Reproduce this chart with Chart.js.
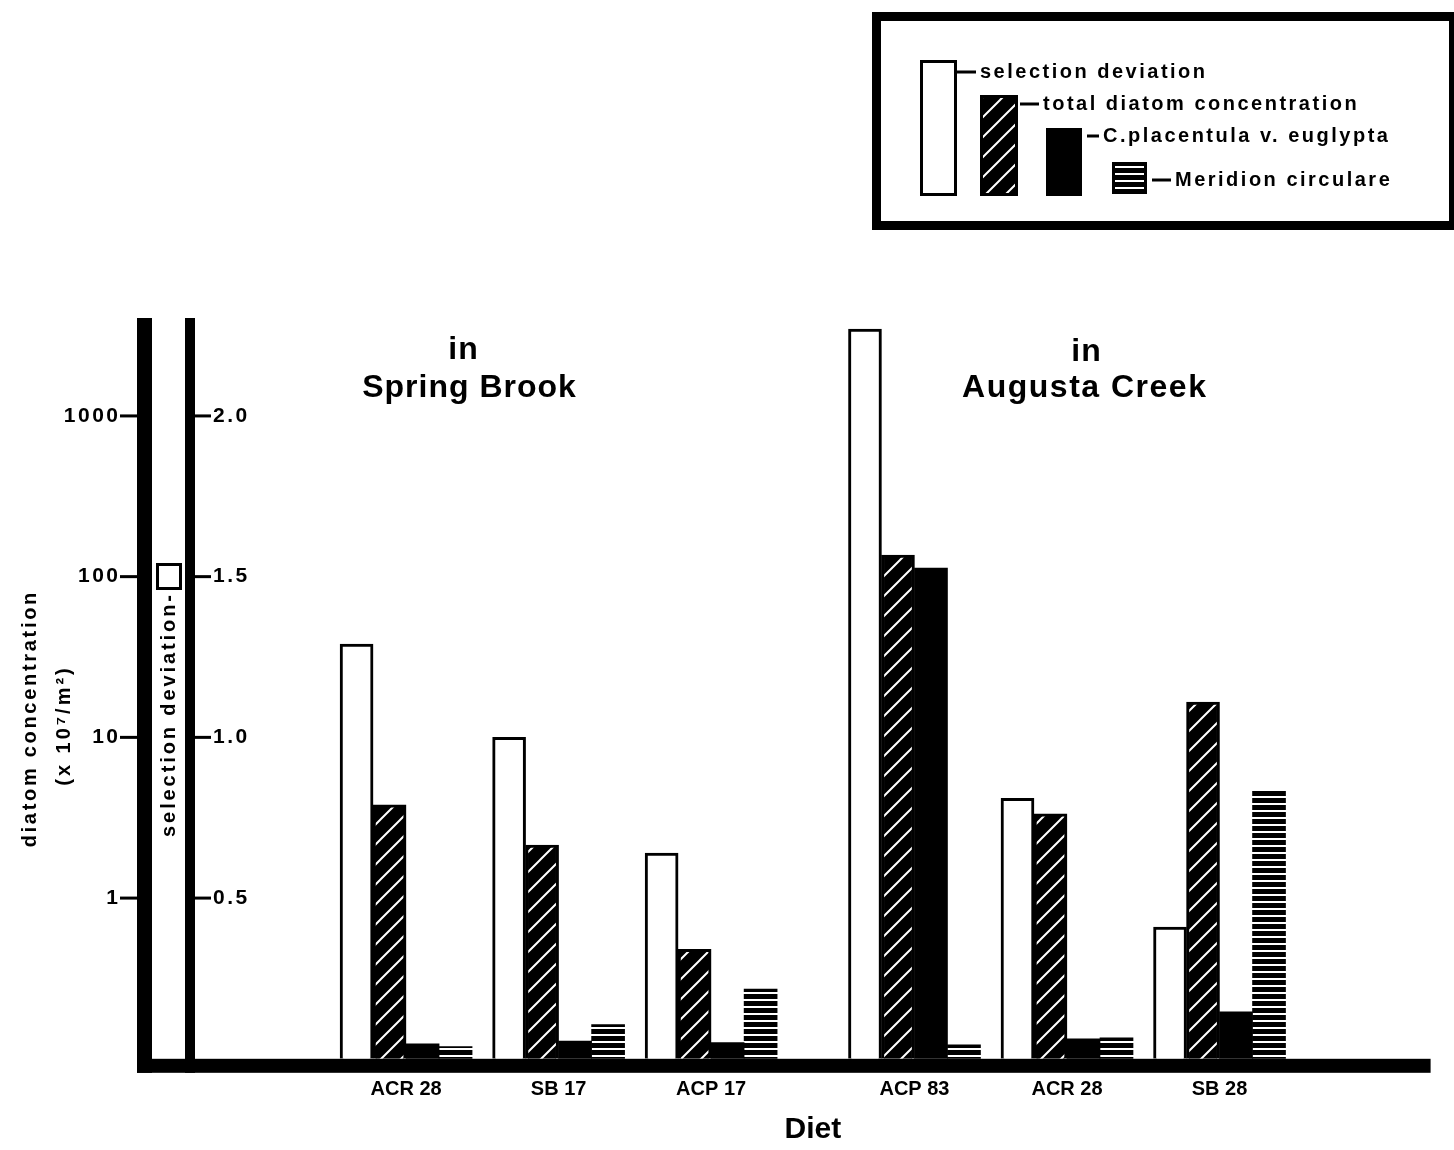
<!DOCTYPE html>
<html>
<head>
<meta charset="utf-8">
<title>Diatom selection by diet</title>
<script src="https://cdn.jsdelivr.net/npm/chart.js@4.4.1/dist/chart.umd.min.js"></script>
<style>
  html, body { margin: 0; padding: 0; background: #fff; }
  canvas { display: block; }
</style>
</head>
<body>
<canvas id="chart" width="1454" height="1150"></canvas>
<script>
// Diets, grouped by stream (first three: Spring Brook, last three: Augusta Creek)
const diets = ['ACR 28', 'SB 17', 'ACP 17', 'ACP 83', 'ACR 28', 'SB 28'];

// Selection deviation (linear, inner axis)
const selectionDeviation = [1.29, 1.0, 0.64, 2.27, 0.81, 0.41];
// Concentrations, x10^7 per m^2 (log axis)
const totalDiatoms = [3.8, 2.14, 0.48, 136, 3.34, 16.6];
const cPlacentula = [0.124, 0.129, 0.126, 113, 0.133, 0.196];
const meridion = [0.119, 0.163, 0.272, 0.122, 0.135, 4.64];

// Axis tick labels
const concTicks = [1, 10, 100, 1000];
const selTicks = ['0.5', '1.0', '1.5', '2.0'];

const seriesNames = ['selection deviation', 'total diatom concentration',
                     'C.placentula v. euglypta', 'Meridion circulare'];

// Horizontal layout: the category axis is cut into narrow slots; groups sit
// six slots apart, with two extra slots between the two streams.
const SLOT_COUNT = 49;
const FIRST_SLOT = 8;
const GROUP_STEPS = [6, 6, 8, 6, 6];

const groupSlots = [FIRST_SLOT];
GROUP_STEPS.forEach(s => groupSlots.push(groupSlots[groupSlots.length - 1] + s));

const slotLabels = new Array(SLOT_COUNT).fill('');
groupSlots.forEach((s, i) => { slotLabels[s] = diets[i]; });

function spread(values) {
  const out = new Array(SLOT_COUNT).fill(null);
  groupSlots.forEach((s, i) => { out[s] = values[i]; });
  return out;
}

const FONT = "'Liberation Sans', Arial, Helvetica, sans-serif";

const canvas = document.getElementById('chart');
const ctx = canvas.getContext('2d');

// Fill patterns
function makeHatch() {
  const c = document.createElement('canvas');
  c.width = 20; c.height = 20;
  const g = c.getContext('2d');
  g.fillStyle = '#000';
  g.fillRect(0, 0, 20, 20);
  g.strokeStyle = '#fff';
  g.lineWidth = 2;
  g.beginPath();
  g.moveTo(-10, 10); g.lineTo(10, -10);
  g.moveTo(0, 20); g.lineTo(20, 0);
  g.moveTo(10, 30); g.lineTo(30, 10);
  g.stroke();
  return ctx.createPattern(c, 'repeat');
}
function makeStripes() {
  const c = document.createElement('canvas');
  c.width = 8; c.height = 7;
  const g = c.getContext('2d');
  g.fillStyle = '#fff';
  g.fillRect(0, 0, 8, 7);
  g.fillStyle = '#000';
  g.fillRect(0, 0, 8, 5);
  return ctx.createPattern(c, 'repeat');
}
const hatch = makeHatch();
const stripes = makeStripes();

function spacedText(g, text, x, y, spacing, align) {
  g.letterSpacing = spacing + 'px';
  g.textAlign = align || 'left';
  g.fillText(text, align === 'right' ? x + spacing : (align === 'center' ? x + spacing / 2 : x), y);
  g.letterSpacing = '0px';
}

const decorations = {
  id: 'decorations',
  beforeDraw(chart) {
    const g = chart.ctx;
    g.save();
    g.fillStyle = '#fff';
    g.fillRect(0, 0, chart.width, chart.height);
    g.restore();
  },
  afterDraw(chart) {
    const g = chart.ctx;
    const a = chart.chartArea;
    const yLog = chart.scales.yLog;
    const ySel = chart.scales.ySel;
    const L = a.left;
    g.save();
    g.fillStyle = '#000';
    g.strokeStyle = '#000';
    g.textBaseline = 'middle';

    // Axis lines and base line
    const top = a.top - 1.5;
    g.fillRect(L - 53, top, 15, a.bottom + 14 - top);
    g.fillRect(L - 5, top, 10, a.bottom + 14 - top);
    g.fillRect(L - 53, a.bottom, a.right - 5 - (L - 53), 14);

    // Concentration ticks (log)
    g.font = 'bold 21px ' + FONT;
    concTicks.forEach(v => {
      const y = yLog.getPixelForValue(v);
      g.fillRect(L - 70, y - 1.5, 18, 3);
      spacedText(g, String(v), L - 72, y, 2.5, 'right');
    });
    // Selection deviation ticks (linear)
    selTicks.forEach(t => {
      const y = ySel.getPixelForValue(parseFloat(t));
      g.fillRect(L + 5, y - 1.5, 16, 3);
      spacedText(g, t, L + 23, y, 2.5, 'left');
    });

    // Axis titles (vertical)
    g.font = 'bold 20px ' + FONT;
    g.save();
    g.translate(30, 720);
    g.rotate(-Math.PI / 2);
    spacedText(g, 'diatom concentration', 0, 0, 2.7, 'center');
    g.restore();
    g.save();
    g.translate(64, 727);
    g.rotate(-Math.PI / 2);
    spacedText(g, '(x 10\u2077/m\u00B2)', 0, 0, 3, 'center');
    g.restore();
    g.save();
    g.translate(169, 716);
    g.rotate(-Math.PI / 2);
    spacedText(g, 'selection deviation-', 0, 0, 2.9, 'center');
    g.restore();
    // open square keyed to the selection-deviation axis
    g.lineWidth = 3;
    g.strokeRect(157.5, 564.5, 23, 24);

    // Stream headings
    g.font = 'bold 32px ' + FONT;
    spacedText(g, 'in', 463, 350, 1, 'center');
    spacedText(g, 'Spring Brook', 469, 388, 1, 'center');
    spacedText(g, 'in', 1086, 352, 1, 'center');
    spacedText(g, 'Augusta Creek', 1084, 388, 1.5, 'center');

    // Legend box
    g.lineWidth = 9;
    g.strokeRect(876.5, 16.5, 577, 209);
    const sw = [
      {x: 920, y: 60, w: 37, h: 136, fill: '#fff', border: true},
      {x: 980, y: 95, w: 38, h: 101, fill: hatch, border: true},
      {x: 1046, y: 128, w: 36, h: 68, fill: '#000', border: false},
      {x: 1112, y: 162, w: 35, h: 32, fill: stripes, border: true}
    ];
    const txt = [
      {dash: 957, x: 980, y: 72},
      {dash: 1020, x: 1043, y: 104},
      {dash: 1087, x: 1103, y: 136},
      {dash: 1152, x: 1175, y: 180}
    ];
    g.font = 'bold 20px ' + FONT;
    sw.forEach((s, i) => {
      g.fillStyle = s.fill;
      g.fillRect(s.x, s.y, s.w, s.h);
      if (s.border) {
        g.lineWidth = 3;
        g.strokeRect(s.x + 1.5, s.y + 1.5, s.w - 3, s.h - 3);
      }
      g.fillStyle = '#000';
      const t = txt[i];
      g.fillRect(t.dash, t.y - 1.5, t.x - t.dash - 4, 3);
      spacedText(g, seriesNames[i], t.x, t.y, 2.5, 'left');
    });
    g.restore();
  }
};

new Chart(ctx, {
  type: 'bar',
  data: {
    labels: slotLabels,
    datasets: [
      { label: seriesNames[0], data: spread(selectionDeviation), yAxisID: 'ySel',
        backgroundColor: '#fff', borderColor: '#000', borderWidth: 3 },
      { label: seriesNames[1], data: spread(totalDiatoms), yAxisID: 'yLog',
        backgroundColor: hatch, borderColor: '#000', borderWidth: 3 },
      { label: seriesNames[2], data: spread(cPlacentula), yAxisID: 'yLog',
        backgroundColor: '#000', borderWidth: 0 },
      { label: seriesNames[3], data: spread(meridion), yAxisID: 'yLog',
        backgroundColor: stripes, borderWidth: 0 }
    ]
  },
  options: {
    responsive: false,
    animation: false,
    devicePixelRatio: 1,
    layout: { padding: { left: 190, right: 18.4, top: 319.5, bottom: 0 } },
    datasets: { bar: { barThickness: 33 } },
    plugins: { legend: { display: false }, tooltip: { enabled: false } },
    scales: {
      x: {
        type: 'category',
        offset: true,
        grid: { display: false, drawTicks: false },
        border: { display: false },
        ticks: {
          autoSkip: false, maxRotation: 0, minRotation: 0, padding: 18.4,
          color: '#000', font: { family: FONT, size: 20, weight: 'bold' }
        },
        title: {
          display: true, text: 'Diet', color: '#000',
          font: { family: FONT, size: 30, weight: 'bold' },
          padding: { top: -7.6, bottom: 2 }
        }
      },
      ySel: { type: 'linear', display: false, min: 0, max: 2.3 },
      yLog: { type: 'logarithmic', display: false, min: 0.1, max: Math.pow(10, 3.6) }
    }
  },
  plugins: [decorations]
});
</script>
</body>
</html>
